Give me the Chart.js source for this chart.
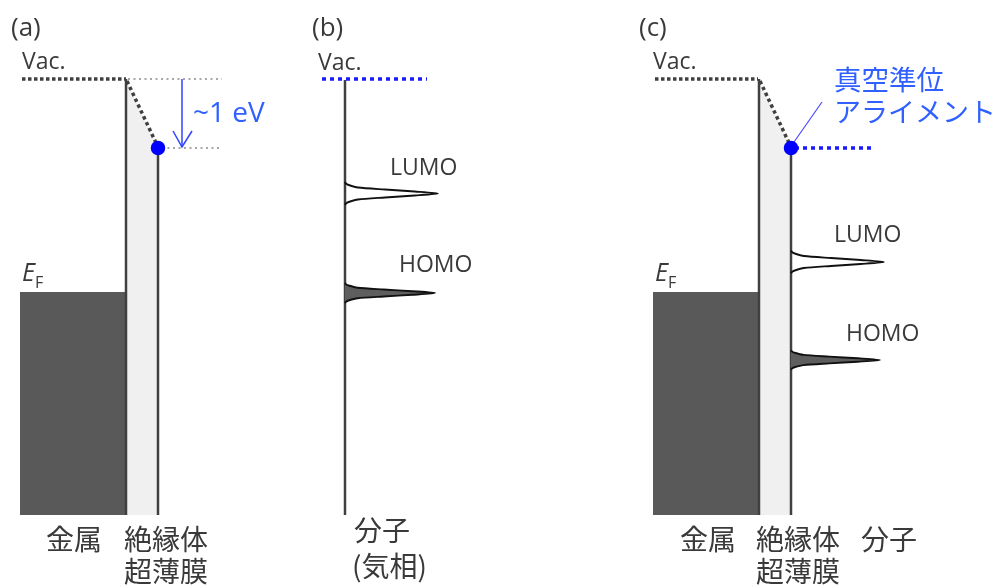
<!DOCTYPE html>
<html>
<head>
<meta charset="utf-8">
<script src="https://cdn.jsdelivr.net/npm/chart.js@4.4.1/dist/chart.umd.min.js"></script>
<style>
  html, body { margin: 0; padding: 0; background: #fff; }
  canvas { display: block; }
</style>
</head>
<body>
<canvas id="diagram" width="1000" height="586"></canvas>
<script>
// Energy diagram: picture units, y grows downward (vacuum level at top).
const VAC_Y = 79;
const ALIGN_Y = 148;
const FERMI_Y = 292;
const BOTTOM_Y = 515;

// panel (a) and (c) share the metal / ultrathin insulator stack
const metalX = [[20, 126], [653, 759]];
const insulatorX = [[126, 158], [759, 791]];
const vacLineX = [[22, 126], [655, 758]];

// panel (a) reference marks for the ~1 eV drop
const refLineEndX = 222;
const arrowX = 182;

// panel (b): gas-phase molecule, panel (c): molecule on the film
const moleculeAxisX = [345, 791];
const gasVacX = [322, 427];
const alignedVacX = [795, 873];
const orbitalNames = ["LUMO", "HOMO"];
const orbitalY = [[193.5, 293], [262, 360]];
const orbitalHeight = [[93, 90], [93, 89]];
const orbitalSpread = [[1, 0.88], [1, 0.85]];

// peak outline: offset from centre vs share of the peak height
const peakDy = [-11.5, -10, -8.5, -6, -4, -2, 0, 2, 4, 6, 8.5, 10, 11.5];
const peakShare = [0, 0.01, 0.04, 0.14, 0.43, 0.75, 1, 0.75, 0.43, 0.14, 0.04, 0.01, 0];

const DARK = "#404040";
const BLUE = "#0000ff";
const BLUE_TEXT = "#3060ff";

function pts(pairs) {
  return pairs.map(([x, y]) => ({ x, y }));
}

function peak(axisX, centerY, height, spread) {
  return peakDy.map((dy, i) => ({ x: axisX + peakShare[i] * height, y: centerY + dy * spread }));
}

const datasets = [];
function add(data, opts) {
  datasets.push(Object.assign({
    data,
    borderColor: DARK,
    borderWidth: 2.5,
    backgroundColor: "transparent",
    fill: false,
    tension: 0,
    pointRadius: 0,
    order: 5,
  }, opts));
}

// metal blocks and insulator films
metalX.forEach(([x0, x1]) => {
  add(pts([[x0, FERMI_Y], [x1, FERMI_Y], [x1, BOTTOM_Y], [x0, BOTTOM_Y]]),
    { fill: "shape", backgroundColor: "#595959", borderWidth: 0, order: 9 });
});
insulatorX.forEach(([x0, x1]) => {
  add(pts([[x0, VAC_Y + 1], [x1, ALIGN_Y], [x1, BOTTOM_Y], [x0, BOTTOM_Y]]),
    { fill: "shape", backgroundColor: "#f0f0f0", borderWidth: 0, order: 9 });
  add(pts([[x0, VAC_Y], [x0, BOTTOM_Y]]), { order: 6 });
  add(pts([[x1, ALIGN_Y], [x1, BOTTOM_Y]]), { order: 6 });
  // vacuum level bending across the film
  add(pts([[x0 + 1, VAC_Y + 2], [x1 - 1, ALIGN_Y - 3]]),
    { borderWidth: 3.5, borderDash: [3.5, 3], order: 4 });
});
vacLineX.forEach(([x0, x1]) => {
  add(pts([[x0, VAC_Y], [x1, VAC_Y]]), { borderWidth: 3.5, borderDash: [3.5, 2.5], order: 4 });
});

// (a) thin reference lines and arrow
add(pts([[insulatorX[0][0] + 2, VAC_Y], [refLineEndX, VAC_Y]]),
  { borderColor: "#8a8a8a", borderWidth: 1.5, borderDash: [2, 3.5] });
add(pts([[insulatorX[0][1] + 4, ALIGN_Y], [refLineEndX, ALIGN_Y]]),
  { borderColor: "#8a8a8a", borderWidth: 1.5, borderDash: [2, 3.5] });
add(pts([[arrowX, VAC_Y], [arrowX, ALIGN_Y - 1]]), { borderColor: "#3344ff", borderWidth: 1.5 });
add(pts([[arrowX - 9, ALIGN_Y - 17], [arrowX, ALIGN_Y - 1], [arrowX + 10, ALIGN_Y - 17]]),
  { borderColor: "#3344ff", borderWidth: 1.5 });

// molecule axis, vacuum level, orbitals
moleculeAxisX.forEach((ax, p) => {
  if (p === 0) add(pts([[ax, VAC_Y + 1], [ax, BOTTOM_Y]]), { order: 6 });
  orbitalY[p].forEach((cy, k) => {
    const filled = orbitalNames[k] === "HOMO";
    add(peak(ax, cy, orbitalHeight[p][k], orbitalSpread[p][k]), {
      borderColor: "#111",
      borderWidth: 1.9,
      tension: 0.25,
      fill: filled ? "shape" : false,
      backgroundColor: filled ? "#5e5e5e" : "transparent",
      order: 3,
    });
  });
});
add(pts([[gasVacX[0], VAC_Y], [gasVacX[1], VAC_Y]]),
  { borderColor: "#1a1aff", borderWidth: 3.5, borderDash: [4, 4], order: 4 });
add(pts([[alignedVacX[0], ALIGN_Y], [alignedVacX[1], ALIGN_Y]]),
  { borderColor: "#1a1aff", borderWidth: 3.5, borderDash: [4, 4], order: 4 });
// callout line for the alignment label
add(pts([[insulatorX[1][1] + 3, ALIGN_Y - 6], [822, 102]]),
  { borderColor: "#4a4aff", borderWidth: 1.2, order: 4 });

// aligned vacuum level dots
add(pts([[insulatorX[0][1], ALIGN_Y], [insulatorX[1][1], ALIGN_Y]]), {
  showLine: false,
  pointRadius: 6,
  pointBackgroundColor: BLUE,
  pointBorderColor: BLUE,
  order: 1,
});

const JP = '"Noto Sans CJK JP", "Open Sans", sans-serif';
const LAT = '"Open Sans", "Noto Sans", sans-serif';
const labels = [
  { t: "(a)", x: 11, y: 29, f: `26px ${LAT}` },
  { t: "(b)", x: 312, y: 29, f: `26px ${LAT}` },
  { t: "(c)", x: 639, y: 29, f: `26px ${LAT}` },
  { t: "Vac.", x: 22, y: 62, f: `23px ${LAT}` },
  { t: "Vac.", x: 318, y: 63, f: `23px ${LAT}` },
  { t: "Vac.", x: 653, y: 62, f: `23px ${LAT}` },
  { t: "~1 eV", x: 193, y: 114, f: `28px ${LAT}`, c: BLUE_TEXT },
  { t: "LUMO", x: 390, y: 168, f: `23px ${LAT}` },
  { t: "HOMO", x: 399, y: 265, f: `23px ${LAT}` },
  { t: "LUMO", x: 834, y: 235, f: `23px ${LAT}` },
  { t: "HOMO", x: 846, y: 334, f: `23px ${LAT}` },
  { t: "真空準位", x: 834, y: 80, f: `27.5px ${JP}`, c: BLUE_TEXT },
  { t: "アライメント", x: 834, y: 112, f: `27px ${JP}`, c: BLUE_TEXT },
  { t: "金属", x: 46, y: 539, f: `28px ${JP}` },
  { t: "絶縁体", x: 124, y: 539, f: `28px ${JP}` },
  { t: "超薄膜", x: 124, y: 571, f: `28px ${JP}` },
  { t: "分子", x: 354, y: 530, f: `28px ${JP}` },
  { t: "(気相)", x: 352, y: 566, f: `28px ${JP}` },
  { t: "金属", x: 680, y: 539, f: `28px ${JP}` },
  { t: "絶縁体", x: 756, y: 539, f: `28px ${JP}` },
  { t: "超薄膜", x: 756, y: 571, f: `28px ${JP}` },
  { t: "分子", x: 861, y: 539, f: `28px ${JP}` },
];
const fermiLabelX = [22, 655];

const labelPlugin = {
  id: "diagramLabels",
  afterDatasetsDraw(chart) {
    const { ctx, scales } = chart;
    const px = (v) => scales.x.getPixelForValue(v);
    const py = (v) => scales.y.getPixelForValue(v);
    ctx.save();
    ctx.textBaseline = "middle";
    ctx.textAlign = "left";
    labels.forEach((l) => {
      ctx.font = l.f;
      ctx.fillStyle = l.c || "#3a3a3a";
      ctx.fillText(l.t, px(l.x), py(l.y));
    });
    fermiLabelX.forEach((x) => {
      ctx.fillStyle = "#3a3a3a";
      ctx.font = `italic 25px ${LAT}`;
      ctx.fillText("E", px(x), py(274));
      const w = ctx.measureText("E").width;
      ctx.font = `16px ${LAT}`;
      ctx.fillText("F", px(x) + w, py(283));
    });
    ctx.restore();
  },
};

new Chart(document.getElementById("diagram"), {
  type: "line",
  data: { datasets },
  options: {
    responsive: false,
    devicePixelRatio: 1,
    animation: false,
    layout: { padding: 0, autoPadding: false },
    plugins: { legend: { display: false }, tooltip: { enabled: false } },
    scales: {
      x: { type: "linear", min: 0, max: 1000, display: false },
      y: { type: "linear", min: 0, max: 586, reverse: true, display: false },
    },
  },
  plugins: [labelPlugin],
});
</script>
</body>
</html>
